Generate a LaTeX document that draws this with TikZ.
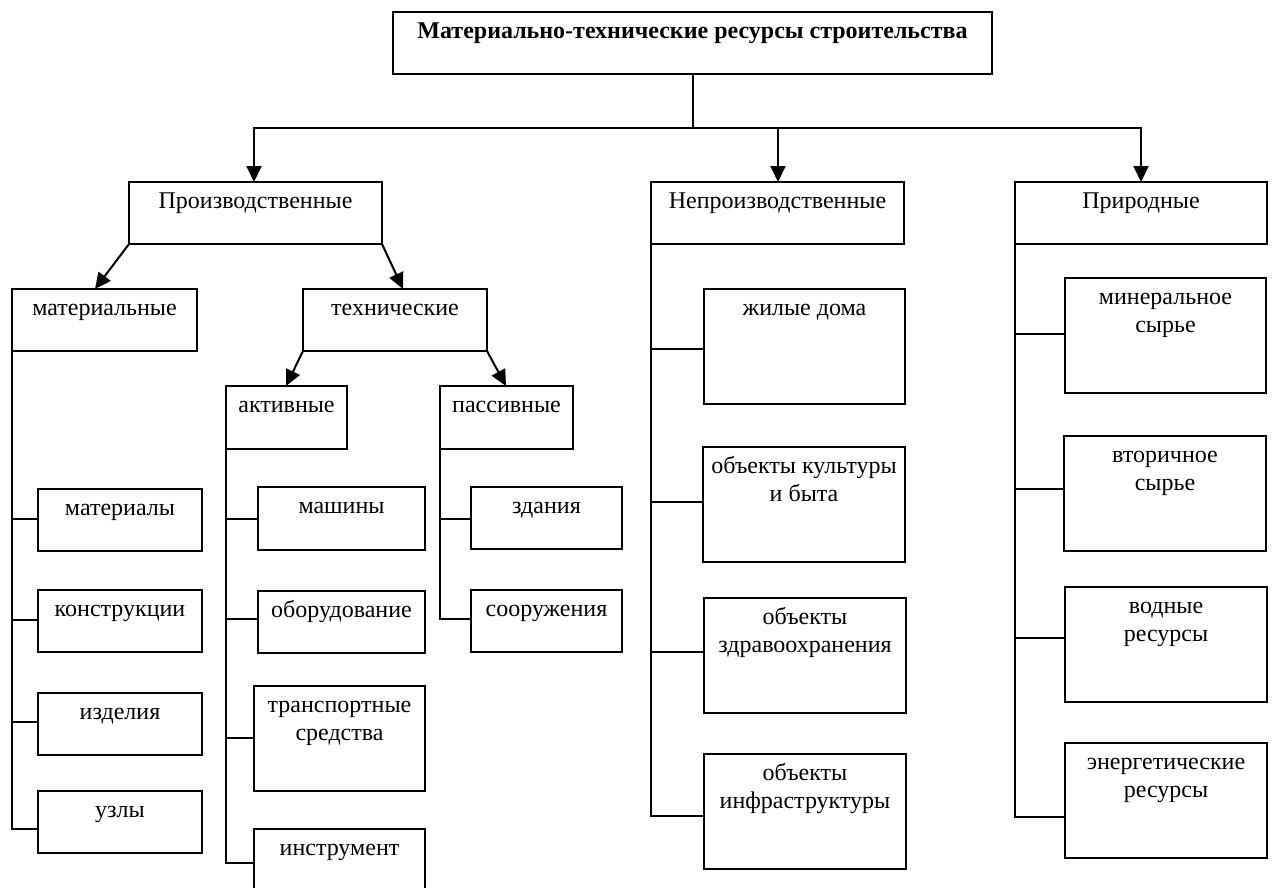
\documentclass[tikz,border=0pt]{standalone}
\usepackage{fontspec}
\setmainfont{Liberation Serif}
\usetikzlibrary{arrows.meta,calc}
\tikzset{
  box/.style={draw,line width=2pt,rectangle,inner sep=0pt,outer sep=0pt,anchor=north west},
  lbl/.style={font=\fontsize{24}{28}\selectfont,align=center,inner sep=0pt,anchor=base},
  ln/.style={line width=2pt},
  arr/.style={line width=2pt,-{Triangle[length=16pt,width=15pt]}},
}
% one-line box
\newcommand\bx[7][26]{%
  \node[box,minimum width={#5-#3},minimum height={#6-#4}] (#2) at (#3,#4) {};
  \node[lbl] (#2-t) at ([yshift=-#1pt]#2.north) {#7};}
% two-line box (base anchor = last line)
\newcommand\bxb[6]{%
  \node[box,minimum width={#4-#2},minimum height={#5-#3}] (#1) at (#2,#3) {};
  \node[lbl] (#1-t) at ([yshift=-54pt]#1.north) {#6};}
\begin{document}
\begin{tikzpicture}[x=1pt,y=-1pt]
\clip (0,0) rectangle (1273,887);
% level 0
\bx{title}{393}{12}{992}{74}{\textbf{Материально-технические ресурсы строительства}}
% level 1
\bx{prod}{129}{182}{382}{244}{Производственные}
\bx{nonprod}{651}{182}{904}{244}{Непроизводственные}
\bx{nat}{1015}{182}{1267}{244}{Природные}
% level 2
\bx{mat}{12}{289}{197}{351}{материальные}
\bx{tech}{303}{289}{487}{351}{технические}
\bx{act}{226}{386}{347}{449}{активные}
\bx{pas}{440}{386}{573}{449}{пассивные}
% material
\bx{mtl}{38}{489}{202}{551}{материалы}
\bx{kon}{38}{590}{202}{652}{конструкции}
\bx{izd}{38}{693}{202}{755}{изделия}
\bx{uzl}{38}{791}{202}{853}{узлы}
% active
\bx{mash}{258}{487}{425}{550}{машины}
\bx{obor}{258}{591}{425}{653}{оборудование}
\bxb{trans}{254}{686}{425}{791}{транспортные\\средства}
\bx{instr}{254}{829}{425}{897}{инструмент}
% passive
\bx{zd}{471}{487}{622}{549}{здания}
\bx{soor}{471}{590}{622}{652}{сооружения}
% nonproduction
\bx{zh}{704}{289}{905}{404}{жилые дома}
\bxb{kul}{703}{447}{905}{562}{объекты культуры\\и быта}
\bxb{zdr}{704}{598}{906}{713}{объекты\\здравоохранения}
\bxb{inf}{704}{754}{906}{869}{объекты\\инфраструктуры}
% natural
\bxb{mine}{1065}{278}{1266}{393}{минеральное\\сырье}
\bxb{vtor}{1064}{436}{1266}{551}{вторичное\\сырье}
\bxb{vod}{1065}{587}{1267}{702}{водные\\ресурсы}
\bxb{en}{1065}{743}{1267}{858}{энергетические\\ресурсы}

% top connectors
\coordinate (hub) at (693,128);
\draw[ln] (title.south -| hub) -- (hub);
\draw[arr] (hub) -| ([xshift=-1.5pt]prod.north);
\draw[arr] (hub) -| (nat.north);
\draw[arr] ([xshift=0.5pt]hub -| nonprod.north) -- ([xshift=0.5pt]nonprod.north);
% production arrows
\draw[arr] (prod.south west) -- ([xshift=-9.5pt]mat.north);
\draw[arr] (prod.south east) -- ([xshift=8pt]tech.north);
\draw[arr] (tech.south west) -- ([xshift=-0.5pt]act.north);
\draw[arr] (tech.south east) -- ([xshift=-0.5pt]pas.north);

% material branch
\draw[ln] (mat.south west) |- ([yshift=-7pt]uzl.west);
\draw[ln] ([yshift=1pt]mtl.west) -- ([yshift=1pt]mtl.west -| mat.south west);
\draw[ln] ([yshift=1pt]kon.west) -- ([yshift=1pt]kon.west -| mat.south west);
\draw[ln] ([yshift=2pt]izd.west) -- ([yshift=2pt]izd.west -| mat.south west);
% active branch
\draw[ln] (act.south west) |- (instr.west);
\draw[ln] ([yshift=-0.5pt]mash.west) -- ([yshift=-0.5pt]mash.west -| act.south west);
\draw[ln] ([yshift=3pt]obor.west) -- ([yshift=3pt]obor.west -| act.south west);
\draw[ln] ([yshift=0.5pt]trans.west) -- ([yshift=0.5pt]trans.west -| act.south west);
% passive branch
\draw[ln] (pas.south west) |- ([yshift=2pt]soor.west);
\draw[ln] ([yshift=-1pt]zd.west) -- ([yshift=-1pt]zd.west -| pas.south west);
% nonproduction branch
\draw[ln] (nonprod.south west) |- ([yshift=-4.5pt]inf.west);
\draw[ln] ([yshift=-2.5pt]zh.west) -- ([yshift=-2.5pt]zh.west -| nonprod.south west);
\draw[ln] ([yshift=2.5pt]kul.west) -- ([yshift=2.5pt]kul.west -| nonprod.south west);
\draw[ln] ([yshift=3.5pt]zdr.west) -- ([yshift=3.5pt]zdr.west -| nonprod.south west);
% natural branch
\draw[ln] (nat.south west) |- ([yshift=-16.5pt]en.west);
\draw[ln] ([yshift=1.5pt]mine.west) -- ([yshift=1.5pt]mine.west -| nat.south west);
\draw[ln] ([yshift=4.5pt]vtor.west) -- ([yshift=4.5pt]vtor.west -| nat.south west);
\draw[ln] ([yshift=6.5pt]vod.west) -- ([yshift=6.5pt]vod.west -| nat.south west);
\end{tikzpicture}
\end{document}
